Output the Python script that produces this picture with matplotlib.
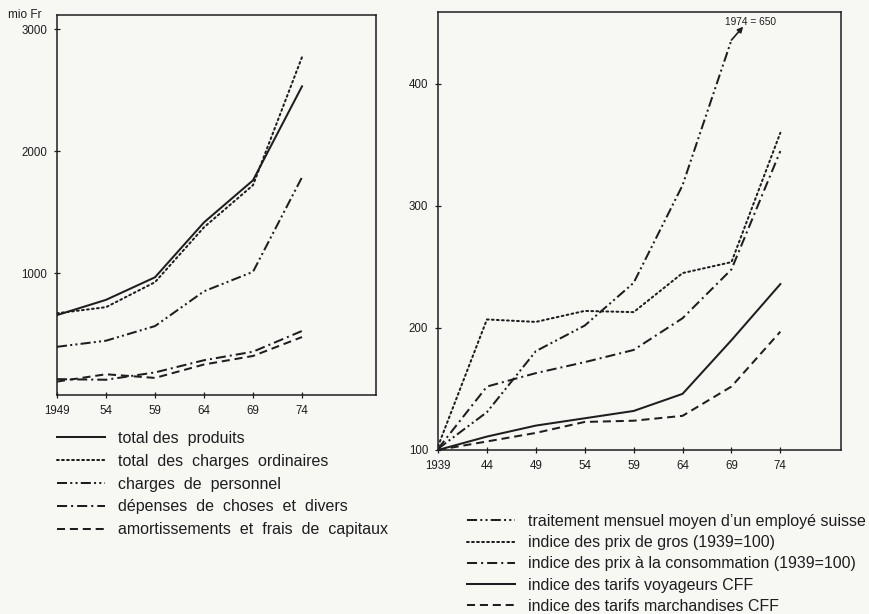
import matplotlib
matplotlib.use("Agg")
import matplotlib.pyplot as plt

plt.rcParams['font.family'] = ['Liberation Sans', 'DejaVu Sans']

# --- left chart: comptes (mio Fr) ---
left_years = [1949, 1954, 1959, 1964, 1969, 1974]
left_ticklabels = ['1949', '54', '59', '64', '69', '74']
produits = [655, 780, 965, 1415, 1760, 2530]
charges_ord = [670, 720, 925, 1375, 1720, 2770]
personnel = [395, 445, 565, 850, 1010, 1785]
choses = [130, 125, 185, 285, 355, 525]
amort = [110, 170, 140, 250, 320, 475]
left_labels = ['total des  produits',
               'total  des  charges  ordinaires',
               'charges  de  personnel',
               'dépenses  de  choses  et  divers',
               'amortissements  et  frais  de  capitaux']

# --- right chart: indices (1939 = 100) ---
right_years = [1939, 1944, 1949, 1954, 1959, 1964, 1969, 1974]
right_ticklabels = ['1939', '44', '49', '54', '59', '64', '69', '74']
traitement = [101, 131, 181, 202, 237, 317, 436]   # 1974 = 650, off the scale
gros = [103, 207, 205, 214, 213, 245, 254, 360]
conso = [101, 152, 163, 172, 182, 208, 248, 345]
voyageurs = [100, 111, 120, 126, 132, 146, 190, 236]
marchandises = [100, 107, 114, 123, 124, 128, 152, 197]
right_labels = ['traitement mensuel moyen d\u2019un employé suisse',
                'indice des prix de gros (1939=100)',
                'indice des prix à la consommation (1939=100)',
                'indice des tarifs voyageurs CFF',
                'indice des tarifs marchandises CFF']

INK = '#1e1e1e'
PAPER = '#f7f7f4'
LW = 1.45
SOLID = '-'
DOTTED = (0, (0.9, 1.6))
DASHDOT = (0, (5, 2, 1, 2))
DASHDOTDOT = (0, (5, 1.6, 1, 1.6, 1, 1.6))
DASHED = (0, (4, 2.4))

fig = plt.figure(figsize=(8.69, 6.14), dpi=100, facecolor=PAPER)


def style_axes(ax):
    ax.set_facecolor(PAPER)
    for s in ax.spines.values():
        s.set_color(INK)
        s.set_linewidth(1.1)
    ax.tick_params(direction='inout', length=4, width=0.9, colors=INK,
                   labelsize=8.3, pad=5)


# left axes
ax1 = fig.add_axes([57 / 869, 1 - 395 / 614, 319 / 869, 380 / 614])
style_axes(ax1)
l1 = []
for vals, ls in [(produits, SOLID), (charges_ord, DOTTED), (personnel, DASHDOTDOT),
                 (choses, DASHDOT), (amort, DASHED)]:
    ln, = ax1.plot(left_years, vals, color=INK, lw=LW, linestyle=ls,
                   dash_capstyle='round' if ls == DOTTED else 'butt')
    l1.append(ln)
ax1.set_xlim(1949, 1981.55)
ax1.set_ylim(0, 3115)
ax1.set_xticks(left_years)
ax1.set_xticklabels(left_ticklabels)
ax1.set_yticks([1000, 2000, 3000])
ax1.set_yticklabels(['1000', '2000', '3000'])
fig.text(8 / 869, 1 - 15 / 614, 'mio Fr', fontsize=8.5, color=INK, va='center')

# right axes
ax2 = fig.add_axes([438 / 869, 1 - 450 / 614, 403 / 869, 438 / 614])
style_axes(ax2)
l2 = []
for yrs, vals, ls in [(right_years[:7], traitement, DASHDOTDOT),
                      (right_years, gros, DOTTED),
                      (right_years, conso, DASHDOT),
                      (right_years, voyageurs, SOLID),
                      (right_years, marchandises, DASHED)]:
    ln, = ax2.plot(yrs, vals, color=INK, lw=LW, linestyle=ls,
                   dash_capstyle='round' if ls == DOTTED else 'butt')
    l2.append(ln)
ax2.set_xlim(1939, 1980.2)
ax2.set_ylim(100, 459)
ax2.set_xticks(right_years)
ax2.set_xticklabels(right_ticklabels)
ax2.set_yticks([100, 200, 300, 400])
ax2.set_yticklabels(['100', '200', '300', '400'])

# arrow for the 1974 value off the chart
ax2.annotate('', xy=(1970.2, 447), xytext=(right_years[6], traitement[6]),
             arrowprops=dict(arrowstyle='-|>', color=INK, lw=1.2,
                             mutation_scale=8, shrinkA=0, shrinkB=0))
ax2.text(1970.9, 451, '1974 = 650', fontsize=7.3, color=INK,
         ha='center', va='center')

# legends
leg_kw = dict(frameon=False, fontsize=11.5, handlelength=3.0, handletextpad=0.8,
              borderpad=0, borderaxespad=0, labelcolor=INK)
fig.legend(l1, left_labels, loc='upper left', labelspacing=0.49,
           bbox_to_anchor=(57 / 869, 1 - 431 / 614), **leg_kw)
fig.legend(l2, right_labels, loc='upper left', labelspacing=0.39,
           bbox_to_anchor=(467 / 869, 1 - 514 / 614), **leg_kw)

fig.savefig('out.png', dpi=100, facecolor=PAPER)
